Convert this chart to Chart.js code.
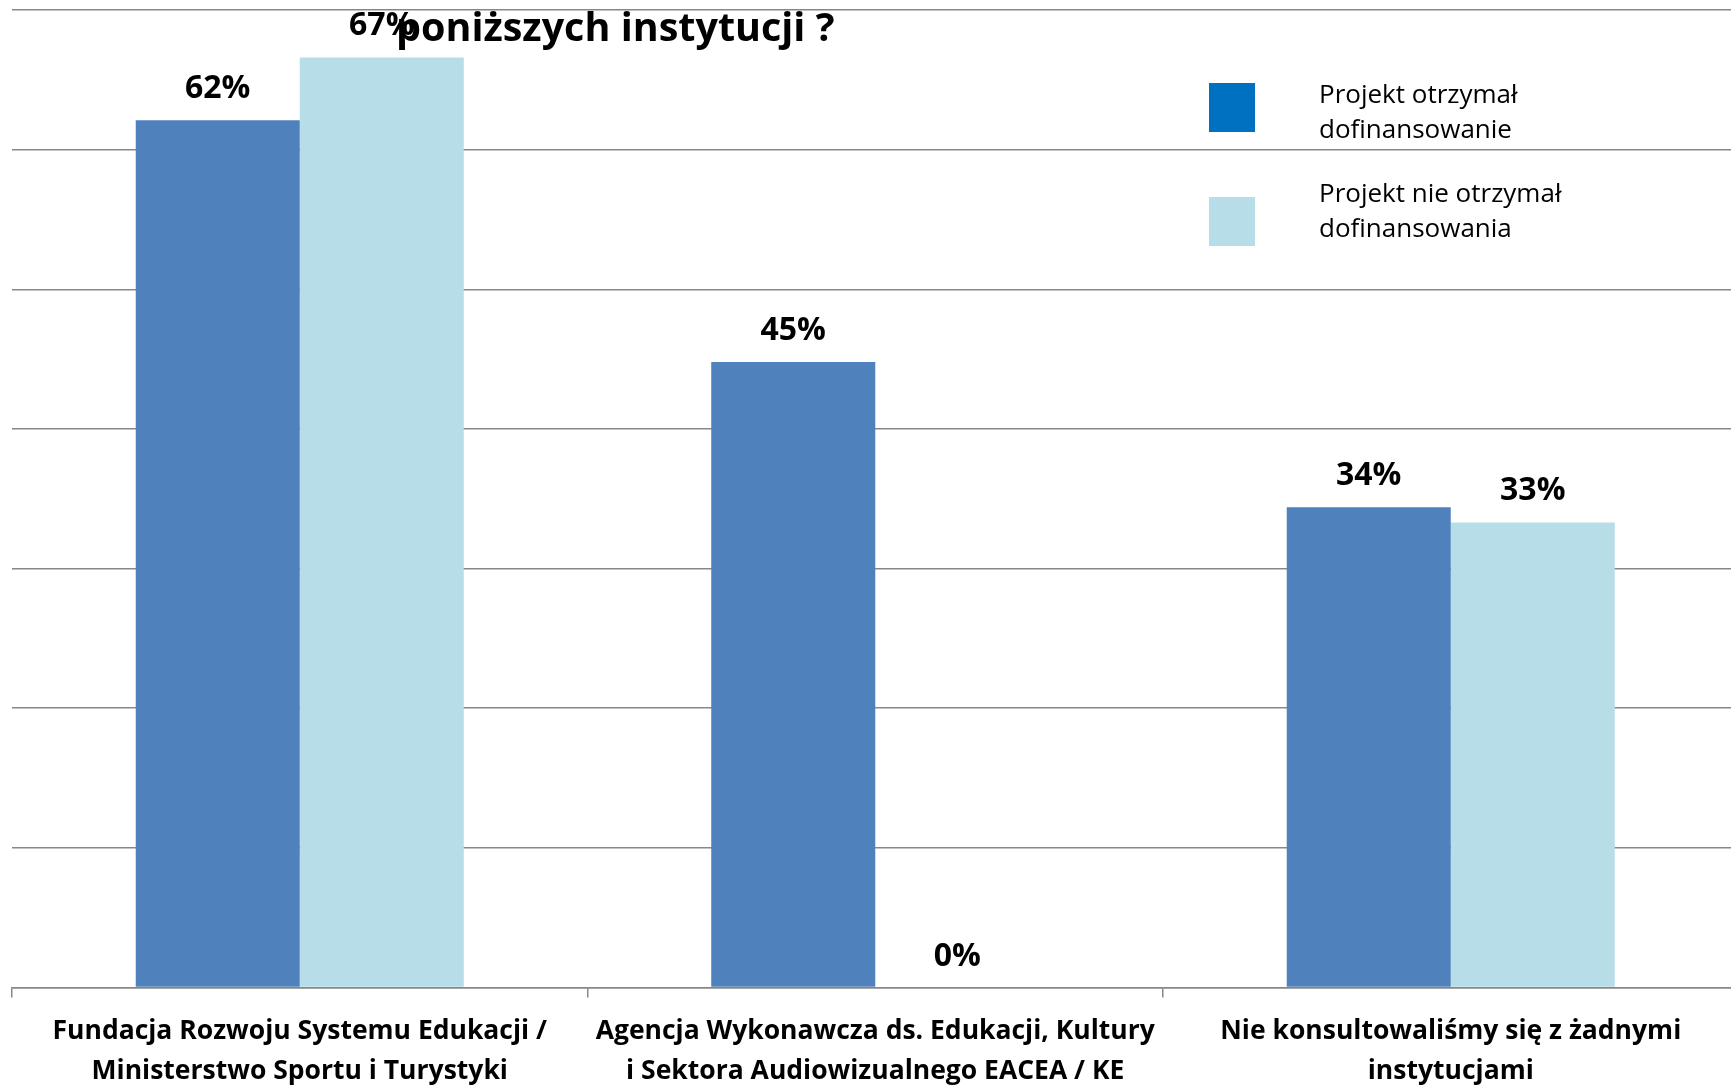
<!DOCTYPE html>
<html lang="pl">
<head>
<meta charset="utf-8">
<title>Konsultacje z instytucjami</title>
<script src="https://cdn.jsdelivr.net/npm/chart.js@4.4.1/dist/chart.umd.min.js"></script>
<style>
  html, body { margin: 0; padding: 0; background: #fff; overflow: hidden; }
  #wrap { width: 1740px; height: 1105px; }
</style>
</head>
<body>
<div id="wrap"><canvas id="chart" width="1740" height="1105"></canvas></div>
<script>
// --- data ---
const categories = [
  ['Fundacja Rozwoju Systemu Edukacji /', 'Ministerstwo Sportu i Turystyki'],
  ['Agencja Wykonawcza ds. Edukacji, Kultury', 'i Sektora Audiowizualnego EACEA / KE'],
  ['Nie konsultowaliśmy się z żadnymi', 'instytucjami']
];
const seriesNames = [
  ['Projekt otrzymał', 'dofinansowanie'],
  ['Projekt nie otrzymał', 'dofinansowania']
];
const funded = [62.1, 44.8, 34.4];
const notFunded = [66.6, 0, 33.3];
const yTicks = [0, 10, 20, 30, 40, 50, 60, 70];
const titleText = 'poniższych instytucji ?';

const barColors = ['#4F81BD', '#B7DDE8'];
const legendColors = ['#0070C0', '#B7DDE8'];
const gridColor = '#878787';
const FONT = '"Open Sans"';

// value labels above the bars
const barLabels = {
  id: 'barLabels',
  afterDatasetsDraw(chart) {
    const ctx = chart.ctx;
    ctx.save();
    ctx.font = 'bold 32px ' + FONT;
    ctx.fillStyle = '#000';
    ctx.textAlign = 'center';
    ctx.textBaseline = 'alphabetic';
    chart.data.datasets.forEach((ds, i) => {
      chart.getDatasetMeta(i).data.forEach((bar, j) => {
        ctx.fillText(Math.round(ds.data[j]) + '%', bar.x, bar.y - 22);
      });
    });
    ctx.restore();
  }
};

// legend box in the top right corner + the cut-off title
const legendAndTitle = {
  id: 'legendAndTitle',
  afterDraw(chart) {
    const ctx = chart.ctx;
    const boxTop = [83, 197];
    const textTop = [103, 202];
    ctx.save();
    seriesNames.forEach((lines, i) => {
      ctx.fillStyle = legendColors[i];
      ctx.fillRect(1209, boxTop[i], 46, 49);
      ctx.fillStyle = '#000';
      ctx.font = '26px ' + FONT;
      ctx.textAlign = 'left';
      ctx.textBaseline = 'alphabetic';
      lines.forEach((t, k) => ctx.fillText(t, 1319, textTop[i] + k * 35));
    });
    ctx.font = 'bold 39.5px ' + FONT;
    ctx.fillText(titleText, 396, 41);
    ctx.restore();
  }
};

new Chart(document.getElementById('chart').getContext('2d'), {
  type: 'bar',
  data: {
    labels: categories,
    datasets: [
      {
        label: seriesNames[0].join(' '),
        data: funded,
        backgroundColor: barColors[0],
        categoryPercentage: 0.57,
        barPercentage: 1.0
      },
      {
        label: seriesNames[1].join(' '),
        data: notFunded,
        backgroundColor: barColors[1],
        categoryPercentage: 0.57,
        barPercentage: 1.0
      }
    ]
  },
  options: {
    responsive: false,
    animation: false,
    devicePixelRatio: 1,
    layout: { padding: { left: 12, right: 1.5, top: 10, bottom: 0 } },
    plugins: {
      legend: { display: false },
      tooltip: { enabled: false }
    },
    scales: {
      x: {
        grid: { drawOnChartArea: false, tickLength: 10, color: gridColor, lineWidth: 1.5, offset: true },
        border: { color: gridColor, width: 1.5 },
        ticks: {
          color: '#000',
          padding: 14,
          maxRotation: 0,
          autoSkip: false,
          font: { family: FONT, weight: 'bold', size: 26.5, lineHeight: 1.5 }
        }
      },
      y: {
        min: 0,
        max: 70,
        afterBuildTicks: axis => { axis.ticks = yTicks.map(v => ({ value: v })); },
        grid: { color: gridColor, lineWidth: 1.5, drawTicks: false },
        border: { display: false },
        ticks: { display: false }
      }
    }
  },
  plugins: [barLabels, legendAndTitle]
});
</script>
</body>
</html>
